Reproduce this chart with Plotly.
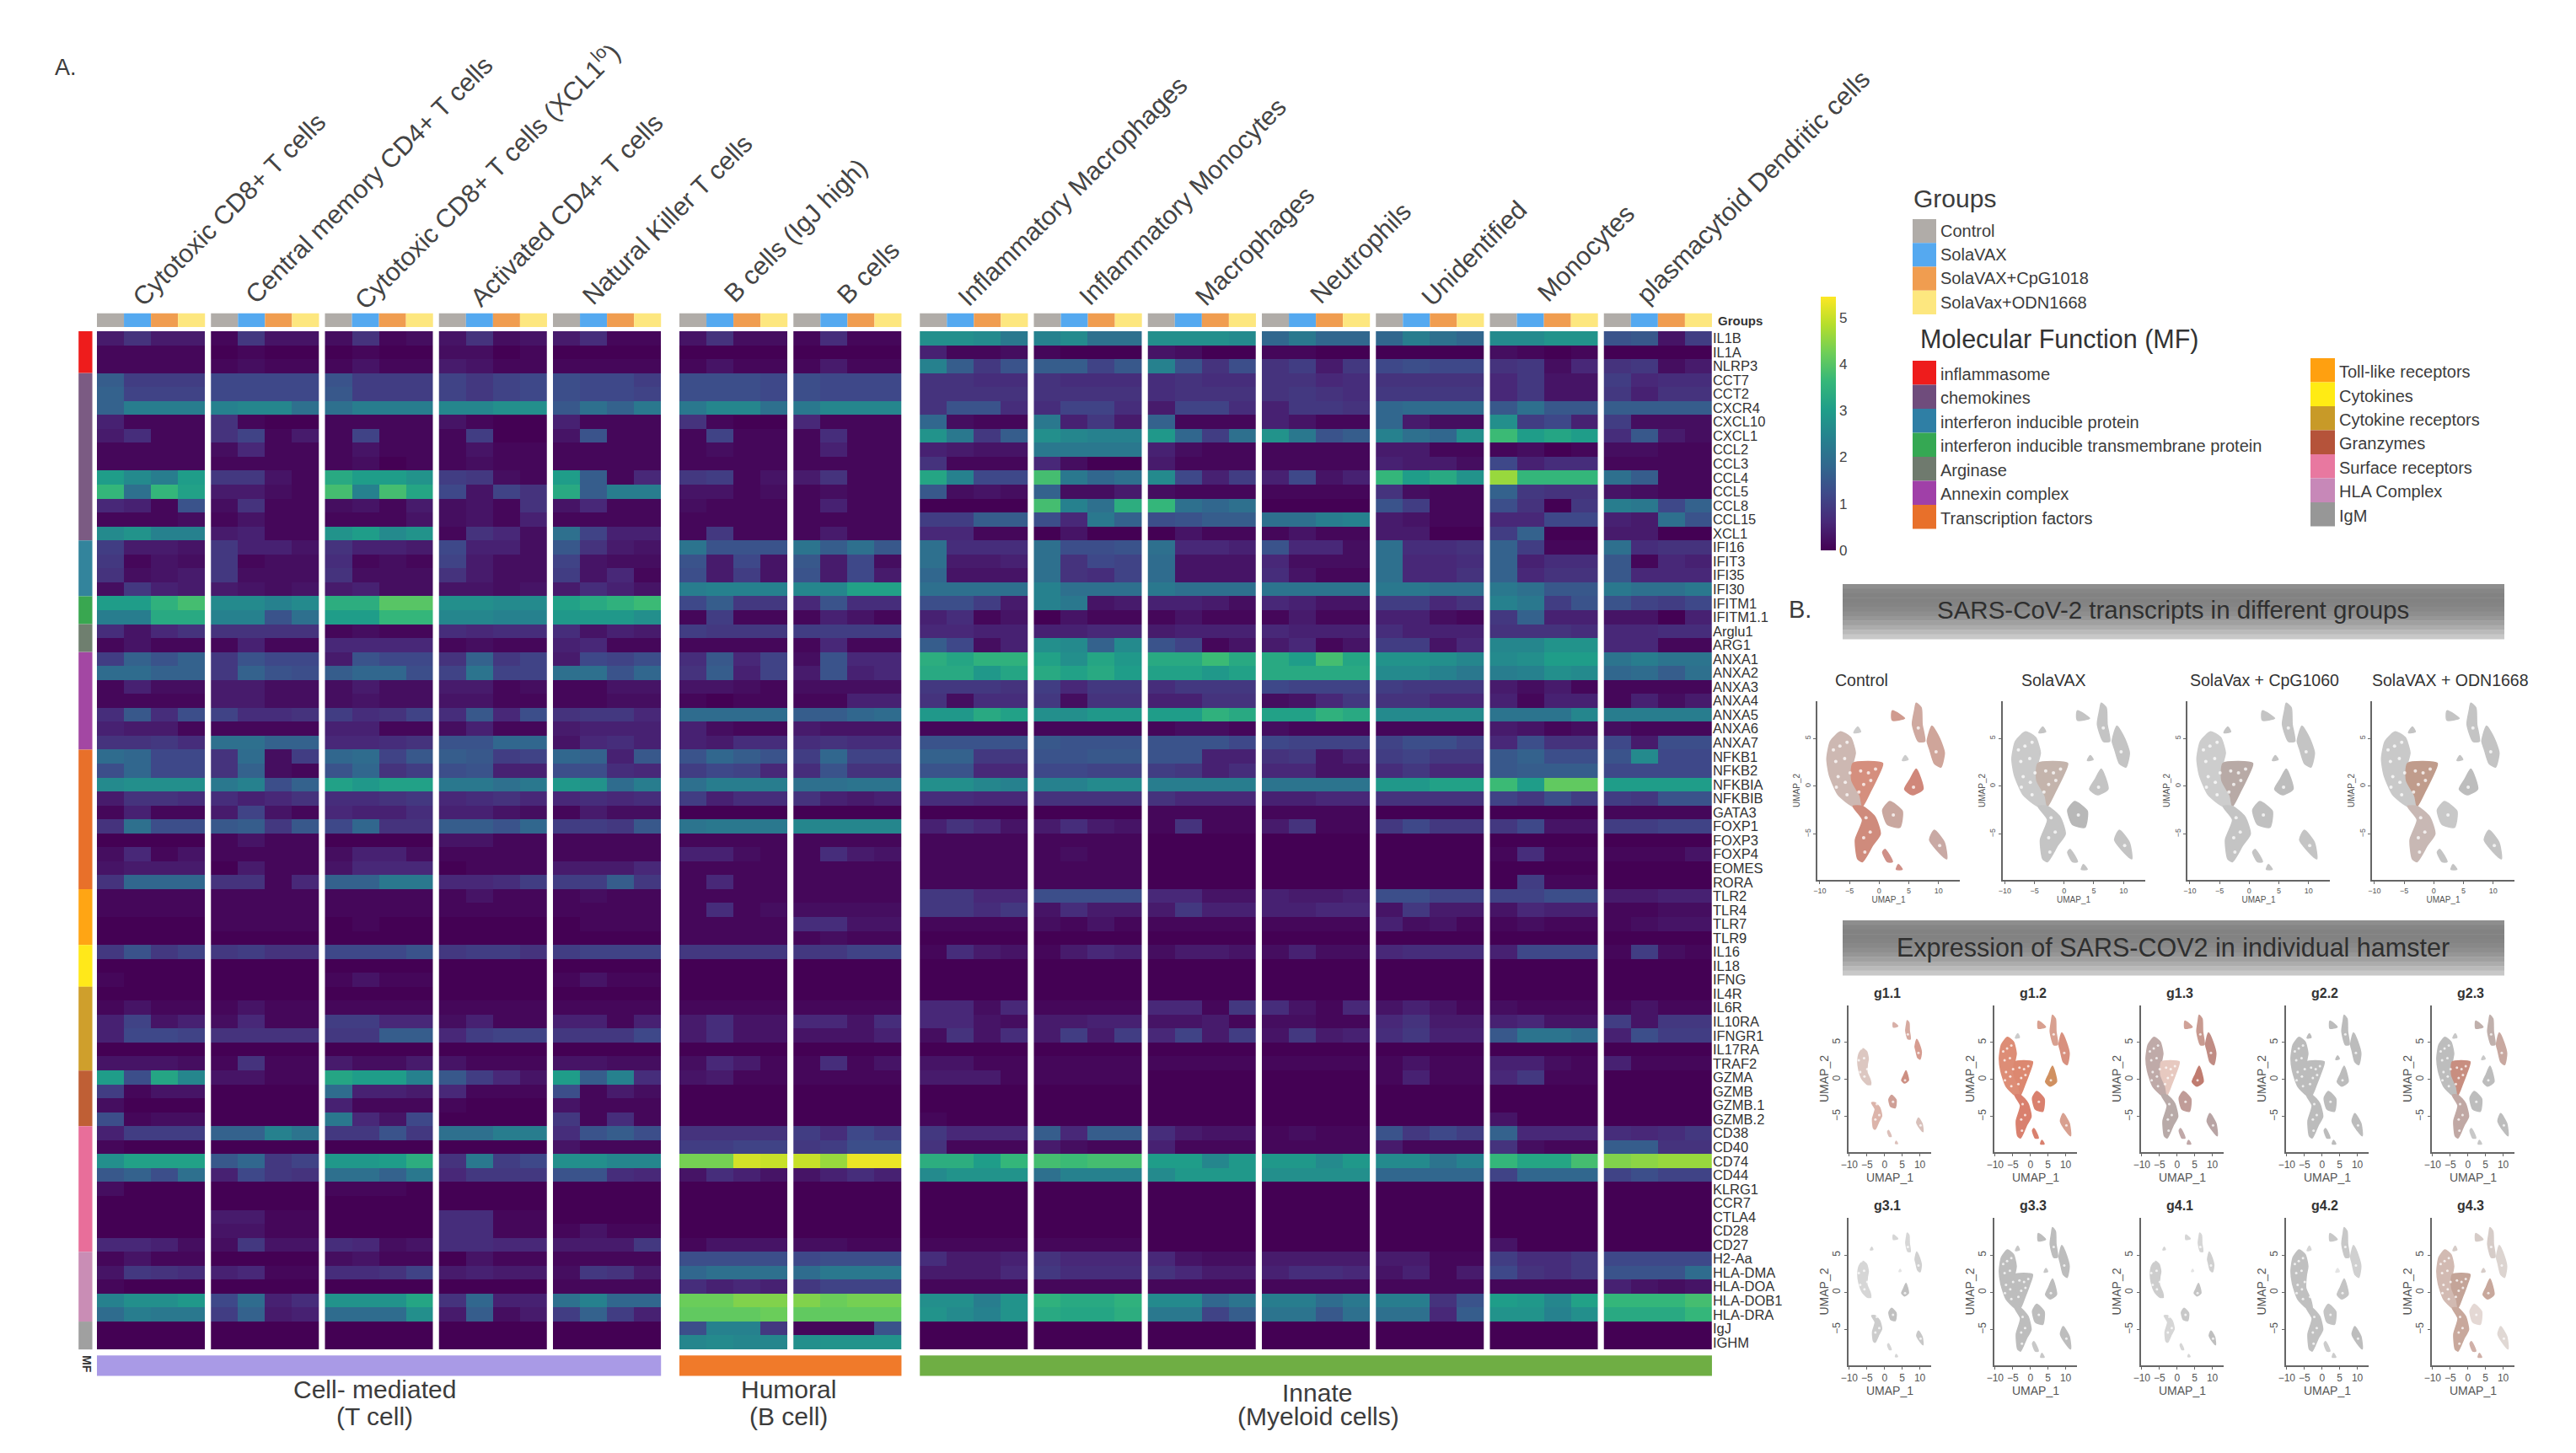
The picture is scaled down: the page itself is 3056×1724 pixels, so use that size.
import plotly.graph_objects as go

W, H = 3056, 1724

genes = ["IL1B","IL1A","NLRP3","CCT7","CCT2","CXCR4","CXCL10","CXCL1","CCL2","CCL3","CCL4","CCL5","CCL8","CCL15","XCL1",
"IFI16","IFIT3","IFI35","IFI30","IFITM1","IFITM1.1","Arglu1","ARG1","ANXA1","ANXA2","ANXA3","ANXA4","ANXA5","ANXA6","ANXA7",
"NFKB1","NFKB2","NFKBIA","NFKBIB","GATA3","FOXP1","FOXP3","FOXP4","EOMES","RORA","TLR2","TLR4","TLR7","TLR9","IL16","IL18","IFNG",
"IL4R","IL6R","IL10RA","IFNGR1","IL17RA","TRAF2","GZMA","GZMB","GZMB.1","GZMB.2","CD38","CD40","CD74","CD44","KLRG1","CCR7","CTLA4",
"CD28","CD27","H2-Aa","HLA-DMA","HLA-DOA","HLA-DOB1","HLA-DRA","IgJ","IGHM"]

cell_types_t = ["Cytotoxic CD8+ T cells","Central memory CD4+ T cells","Cytotoxic CD8+ T cells (XCL1<sup>lo</sup>)","Activated CD4+ T cells","Natural Killer T cells"]
cell_types_b = ["B cells (IgJ high)","B cells"]
cell_types_m = ["Inflammatory Macrophages","Inflammatory Monocytes","Macrophages","Neutrophils","Unidentified","Monocytes","plasmacytoid Dendritic cells"]
groups = ["Control","SolaVAX","SolaVAX+CpG1018","SolaVax+ODN1668"]

# expression x 10, one row per gene, four values per cell type
expr_t = [
[4,8,4,4,1,9,3,3,2,8,1,2,3,8,2,3,4,7,1,1],
[1,1,1,1,0,1,0,0,0,1,0,0,2,2,0,1,0,0,0,0],
[1,1,1,1,1,2,1,1,1,3,1,1,4,3,1,1,1,1,1,1],
[16,10,10,10,12,12,12,12,14,10,10,10,11,9,11,12,13,12,12,10],
[17,11,11,11,12,12,12,12,15,10,10,10,11,9,11,12,13,12,12,11],
[17,23,23,23,24,25,25,20,20,23,23,23,25,25,27,27,15,20,17,22],
[5,1,1,1,8,1,0,0,1,1,1,1,3,1,0,0,5,1,1,1],
[4,7,1,1,8,11,1,4,1,11,1,1,1,10,0,0,3,14,1,1],
[1,1,1,1,2,6,1,1,1,3,1,1,1,3,1,1,1,1,1,1],
[1,1,1,1,1,1,1,1,1,2,0,1,1,2,1,1,1,1,1,1],
[30,26,23,30,9,9,3,1,33,30,30,28,10,9,2,1,30,16,1,6],
[36,20,36,31,4,4,2,1,38,24,38,32,12,3,11,8,33,16,23,23],
[6,5,1,14,2,8,1,1,2,3,1,4,2,3,1,8,3,6,1,1],
[1,1,1,2,1,3,1,1,1,1,1,3,2,3,1,5,1,1,1,1],
[26,28,24,24,4,5,1,1,28,30,26,28,1,8,6,2,20,11,5,5],
[10,4,4,3,9,5,5,3,8,5,5,4,12,5,5,2,15,8,4,3],
[9,1,3,2,9,1,2,2,7,1,2,1,11,4,2,2,11,3,2,2],
[8,2,3,4,9,2,2,2,8,2,2,2,8,4,2,2,10,3,6,1],
[2,9,5,4,4,3,2,3,4,5,2,2,3,3,2,3,4,7,5,3],
[30,30,35,38,26,26,24,26,34,34,40,40,27,27,26,26,31,33,35,37],
[23,23,33,33,24,24,14,20,30,30,36,36,25,25,24,24,29,29,29,27],
[7,3,6,8,8,8,8,8,1,2,1,1,7,6,7,7,7,3,5,4],
[1,3,1,1,1,5,1,1,6,6,6,6,1,2,1,1,5,6,1,1],
[10,17,14,17,9,14,12,12,4,14,12,12,8,17,9,11,4,12,11,13],
[19,19,17,17,9,17,14,13,16,18,18,13,11,21,11,11,20,20,14,18],
[1,5,2,2,4,4,2,2,2,4,2,2,4,4,1,2,1,1,3,3],
[1,1,1,1,4,4,2,2,2,3,2,2,3,3,1,1,1,1,2,2],
[7,15,7,13,11,7,7,8,10,7,8,11,7,15,6,13,8,9,9,6],
[5,4,4,1,1,1,1,1,5,5,1,1,2,5,1,1,4,5,5,5],
[8,8,9,7,20,20,17,17,6,6,7,8,14,14,18,18,3,6,7,5],
[19,18,12,12,8,19,2,10,18,19,11,15,16,15,10,11,18,17,5,15],
[13,18,12,12,8,17,2,1,14,18,8,10,13,14,5,5,13,13,7,6],
[26,27,27,27,22,24,13,17,31,29,31,31,22,22,20,22,29,28,19,23],
[4,8,8,7,7,5,6,8,7,7,8,9,6,7,8,6,6,7,6,7],
[1,5,1,1,4,11,3,1,6,5,5,7,5,5,3,2,1,4,2,2],
[8,20,13,13,15,16,9,15,12,18,8,8,16,16,14,18,10,10,9,15],
[0,0,0,0,1,3,1,1,0,0,0,0,3,3,1,1,1,1,1,1],
[2,6,1,3,1,1,1,1,2,5,5,2,1,1,1,1,1,1,1,1],
[3,4,4,4,0,4,1,1,3,6,6,6,0,1,1,1,4,4,4,6],
[8,18,18,18,8,8,1,6,17,17,22,22,6,6,7,10,10,10,16,9],
[1,1,1,1,1,1,1,1,1,1,1,1,1,3,1,1,1,2,1,1],
[1,1,1,1,1,1,1,1,1,1,1,1,1,1,1,1,1,1,1,1],
[0,0,0,0,1,1,1,1,0,1,0,0,0,0,0,0,0,1,1,1],
[0,0,0,0,0,0,0,0,0,0,0,0,0,0,0,0,0,0,0,0],
[9,14,9,11,9,10,8,8,12,12,12,14,9,10,10,8,10,11,11,11],
[0,0,0,0,0,0,0,0,0,0,0,0,0,0,0,0,0,0,0,0],
[1,0,0,0,0,0,0,0,1,3,1,1,0,0,0,0,1,3,1,1],
[0,0,0,0,0,0,0,0,0,0,0,0,0,0,0,0,0,0,0,0],
[1,3,1,1,1,3,1,1,1,1,1,1,1,1,1,1,1,1,1,1],
[5,11,3,5,2,6,1,1,10,10,6,6,2,5,1,1,5,5,1,5],
[5,12,12,11,8,8,8,8,9,9,16,16,6,10,11,11,9,9,9,12],
[0,0,0,0,0,0,0,0,0,0,0,0,0,0,0,0,0,0,0,0],
[3,3,3,2,1,8,1,1,4,2,2,4,3,1,1,1,3,3,2,2],
[30,13,32,25,3,3,1,1,32,30,30,24,15,10,6,3,30,16,24,7],
[10,1,3,3,0,0,0,0,19,5,5,4,6,1,1,1,13,1,4,2],
[2,0,0,0,0,0,0,0,5,1,1,1,1,0,0,0,3,1,1,1],
[13,1,2,2,0,0,0,0,22,6,3,12,0,0,0,0,9,1,7,1],
[5,10,10,10,17,17,24,21,9,9,14,9,20,20,23,23,7,14,16,13],
[1,0,0,0,0,0,0,0,0,0,0,0,0,0,0,0,3,1,1,1],
[27,31,31,31,15,18,9,11,29,29,30,34,8,22,10,12,27,27,25,25],
[15,17,13,20,5,12,9,8,20,20,17,22,6,9,9,9,14,14,7,6],
[2,0,0,0,0,0,0,0,1,1,1,0,0,0,0,0,0,0,0,0],
[0,0,0,0,0,0,0,0,0,0,0,0,0,0,0,0,0,0,0,0],
[0,0,0,0,4,4,1,1,0,0,0,0,7,7,1,1,0,0,0,0],
[0,0,0,0,3,3,1,1,0,0,0,0,7,7,1,1,1,3,1,1],
[6,6,5,2,2,9,3,3,7,6,2,3,7,7,6,6,4,4,4,9],
[1,3,1,1,0,0,0,0,2,3,1,1,0,3,1,1,1,1,1,1],
[3,9,8,7,5,6,1,1,7,7,8,11,4,5,4,4,2,9,8,4],
[1,0,0,0,0,0,0,0,0,0,0,0,0,0,0,0,1,1,1,1],
[24,27,27,29,12,19,5,7,28,28,28,32,8,18,5,5,20,24,18,18],
[19,23,22,22,10,17,4,5,19,19,19,27,4,16,2,4,10,17,10,5],
[0,0,0,0,0,0,0,0,0,0,0,0,0,0,0,0,0,0,0,0],
[0,0,0,0,0,0,0,0,0,0,0,0,0,0,0,0,0,0,0,0],
]

expr_b = [
[3,8,2,2,1,7,1,1],[0,0,0,0,0,0,0,0],[1,3,1,1,1,4,1,1],[13,13,13,12,13,12,12,12],[13,13,13,12,13,12,12,12],
[22,25,25,20,22,25,25,25],[8,1,0,0,6,1,1,1],[1,11,1,1,1,7,1,1],[1,2,1,1,1,5,1,1],[1,1,1,1,1,1,1,1],
[9,10,1,3,4,8,1,1],[3,3,1,2,1,2,1,1],[2,1,1,1,1,5,1,1],[1,1,1,1,1,1,1,1],[1,9,1,1,1,4,1,1],
[21,14,14,14,21,16,20,15],[14,4,12,3,15,4,12,2],[13,4,10,3,14,4,12,4],[23,24,24,24,25,25,31,31],[12,16,9,9,6,14,7,7],
[1,10,1,1,1,5,3,1],[10,9,9,9,10,10,10,10],[1,1,1,1,1,6,1,1],[7,15,6,11,2,14,6,6],[8,16,5,11,4,14,5,6],
[3,3,2,1,2,2,2,2],[1,0,1,1,1,1,5,5],[19,19,19,19,16,16,18,19],[5,2,1,1,4,3,3,3],[5,4,7,7,7,8,7,7],
[14,18,16,14,10,18,11,11],[10,12,11,6,7,14,8,8],[20,23,23,23,20,20,21,21],[10,5,7,7,8,5,4,5],[0,0,0,0,0,0,0,0],
[21,22,22,22,25,25,25,25],[1,1,1,1,1,1,1,1],[5,5,2,1,1,7,4,3],[1,1,1,1,1,1,1,1],[1,6,1,1,1,1,1,1],
[1,1,1,1,1,1,1,1],[1,7,1,2,2,2,2,2],[1,1,1,1,7,7,3,3],[1,1,1,1,1,2,1,1],[9,9,9,9,9,9,11,11],
[0,0,0,0,0,0,0,0],[0,0,0,0,0,0,0,0],[0,0,0,0,0,0,0,0],[1,1,1,1,1,1,1,1],[4,7,3,3,6,6,3,7],
[4,7,3,3,3,3,3,5],[0,0,0,0,0,0,0,0],[2,6,4,1,1,7,1,3],[3,4,1,1,1,1,1,1],[0,0,0,0,0,0,0,0],
[0,0,0,0,0,0,0,0],[0,0,0,0,0,0,0,0],[8,8,8,8,10,7,12,10],[10,10,11,11,9,10,13,13],[43,43,51,50,50,46,53,53],
[3,7,5,3,3,5,7,5],[0,0,0,0,0,0,0,0],[0,0,0,0,0,0,0,0],[0,0,0,0,0,0,0,0],[0,0,0,0,0,0,0,0],
[1,3,3,3,2,2,1,1],[13,13,13,13,12,13,13,13],[18,20,20,20,19,22,22,22],[7,5,6,5,9,11,11,11],[42,42,44,44,44,42,43,43],
[41,41,41,42,41,41,41,41],[13,24,24,9,1,1,1,14],[25,26,25,25,27,28,28,28],
]

expr_m = [
[27,27,26,22,24,26,20,20,27,27,27,26,18,22,18,18,18,23,20,18,26,26,28,28,14,15,3,10],
[5,1,1,2,1,0,0,0,3,2,0,0,1,1,0,0,0,0,0,0,2,1,0,1,0,0,0,0],
[24,16,9,14,16,16,11,15,24,14,8,13,8,10,4,9,12,13,12,12,8,9,2,6,8,9,2,4],
[8,8,7,7,8,7,7,7,7,8,7,7,8,8,6,7,8,8,8,8,6,9,3,3,10,6,7,7],
[8,8,8,8,8,8,8,8,7,8,8,8,8,9,8,7,9,9,9,9,6,9,3,3,9,5,8,8],
[8,14,14,7,7,11,11,7,4,11,11,7,5,9,9,8,18,19,19,19,15,20,15,15,16,16,16,16],
[18,2,1,1,22,5,9,4,17,1,1,1,5,3,1,1,18,4,2,2,27,10,12,5,10,2,2,2],
[28,22,9,16,27,25,24,24,29,18,10,20,28,22,14,16,24,20,18,27,37,30,32,30,7,15,4,2],
[5,4,3,3,22,22,22,22,5,2,1,1,1,1,1,1,4,4,1,1,1,2,0,1,2,2,1,1],
[8,1,1,1,6,2,0,0,4,1,1,1,1,1,1,1,5,4,4,2,12,5,7,7,1,1,1,1],
[32,24,12,12,38,22,18,20,26,12,5,10,5,12,3,5,36,30,33,28,46,36,36,36,20,16,1,1],
[15,2,3,2,17,2,2,4,2,1,1,1,1,1,1,1,8,2,1,1,17,9,8,8,3,2,1,1],
[0,0,0,0,38,24,20,34,36,20,18,20,0,0,0,0,14,10,1,1,13,8,0,9,23,22,12,17],
[10,10,16,16,13,6,22,17,13,14,16,16,20,20,23,24,4,3,1,1,6,6,12,12,5,4,20,14],
[6,6,1,1,0,3,0,0,0,3,1,1,1,3,1,1,4,4,0,0,10,17,0,0,4,4,0,0],
[20,7,7,7,20,13,13,14,20,6,6,5,14,6,6,2,20,7,7,8,17,10,1,1,20,7,8,8],
[20,4,4,5,20,8,12,11,19,3,3,3,6,2,2,2,20,6,6,7,17,5,7,7,15,1,6,5],
[18,3,3,3,20,8,7,11,19,3,3,3,7,3,1,1,20,6,6,8,17,6,8,8,15,6,6,6],
[20,20,20,20,24,20,20,20,22,20,20,20,21,21,21,21,22,22,20,20,22,20,15,15,22,20,20,22],
[13,13,10,4,24,22,3,4,5,5,4,2,6,5,3,3,10,10,6,8,24,22,10,14,14,11,10,12],
[5,7,1,3,0,3,1,1,1,3,1,1,1,4,1,1,5,5,2,1,9,17,5,5,3,3,0,5],
[6,6,5,5,5,5,6,6,4,5,5,5,6,5,5,5,7,5,5,5,8,8,8,7,6,6,7,7],
[16,12,2,5,27,26,17,26,14,11,1,3,4,6,1,3,10,10,3,6,25,25,28,28,6,6,1,1],
[34,32,35,35,31,27,32,29,33,33,37,33,33,30,38,32,28,28,27,25,26,27,30,30,21,23,21,21],
[33,33,29,32,33,31,33,30,31,31,29,31,33,33,33,33,26,26,24,22,23,24,27,26,18,19,16,20],
[9,9,9,8,10,6,9,9,7,9,9,9,12,11,11,11,10,9,9,9,4,2,4,1,1,1,1,1],
[8,2,7,7,9,2,8,8,5,5,8,8,2,3,6,9,8,8,6,6,5,1,5,5,1,5,2,4],
[29,29,33,31,27,27,29,29,30,30,35,33,31,31,35,33,26,26,26,26,21,21,21,25,23,23,23,23],
[1,1,1,1,1,1,1,1,1,2,2,1,2,1,1,1,1,1,1,1,4,3,1,2,2,1,1,1],
[14,14,14,14,15,14,14,14,14,14,14,12,12,11,11,11,11,13,13,11,6,13,8,8,12,4,13,13],
[17,17,9,9,14,14,15,15,14,14,5,5,8,9,3,5,10,11,9,9,15,17,13,13,14,26,12,12],
[14,14,6,6,12,12,11,11,10,9,5,7,6,6,3,3,7,9,6,6,15,16,16,16,12,12,12,12],
[27,27,25,24,24,24,26,26,23,23,23,23,21,21,21,21,29,29,31,31,37,30,41,41,30,30,30,30],
[7,7,6,6,8,8,8,8,8,6,6,6,5,5,6,6,8,8,8,8,11,9,13,10,10,9,14,14],
[0,0,0,0,0,0,0,0,1,1,1,1,1,1,1,1,0,0,0,0,0,0,0,0,1,1,1,1],
[5,8,6,3,4,7,4,3,1,8,1,1,4,8,1,1,9,12,9,9,9,12,3,3,10,10,11,11],
[1,1,1,1,1,1,1,1,0,0,0,0,0,0,0,0,0,0,0,0,0,0,0,0,0,0,0,0],
[1,1,1,1,1,2,1,1,0,0,0,0,0,0,0,0,0,0,0,0,1,7,1,1,1,1,1,3],
[1,1,1,1,1,1,1,1,0,0,0,0,0,0,0,0,0,0,0,0,0,0,0,0,0,0,0,0],
[1,1,1,1,1,1,1,1,0,0,0,0,0,0,0,0,0,0,0,0,0,10,1,1,0,0,0,0],
[9,9,6,6,13,13,13,13,6,6,3,3,5,4,4,5,13,13,11,11,11,11,13,13,4,4,5,5],
[9,9,7,9,3,7,4,4,4,9,5,5,5,5,6,6,3,9,4,4,3,6,5,5,1,1,2,2],
[1,1,1,1,2,1,3,1,1,1,1,1,1,1,1,1,5,2,3,1,1,2,1,1,1,2,3,3],
[0,0,0,0,0,0,0,0,0,0,0,0,0,0,0,0,0,0,0,0,0,0,0,0,0,0,0,0],
[1,7,4,3,1,4,6,5,2,4,4,3,2,5,2,2,6,7,7,7,5,12,12,12,1,10,2,1],
[0,0,0,0,0,0,0,0,0,0,0,0,0,0,0,0,0,0,0,0,0,0,0,0,0,0,0,0],
[0,0,0,0,0,0,0,0,0,0,0,0,0,0,0,0,0,0,0,0,0,0,0,0,0,0,0,0],
[0,0,0,0,0,0,0,0,0,0,0,0,0,0,0,0,0,0,0,0,0,0,0,0,0,0,0,0],
[6,6,2,6,1,1,1,1,6,6,1,9,7,3,1,6,3,5,3,1,2,1,1,1,1,3,1,1],
[6,6,3,2,4,4,5,5,3,3,4,1,2,2,1,1,6,8,4,4,5,6,3,3,10,3,9,9],
[2,8,3,7,4,10,4,10,6,11,4,10,3,9,4,5,7,9,5,5,15,21,21,19,5,13,10,10],
[0,0,0,0,0,0,0,0,0,0,0,0,0,0,0,0,0,0,0,0,0,0,0,0,0,0,0,0],
[3,3,1,1,1,1,1,1,1,1,1,1,1,1,1,1,1,3,1,1,5,5,2,1,5,1,1,1],
[4,4,4,1,1,1,1,1,0,0,0,0,0,0,0,0,1,5,1,1,6,9,1,1,0,0,0,0],
[0,0,0,0,0,0,0,0,0,0,0,0,0,0,0,0,0,0,0,0,0,0,0,0,0,0,0,0],
[0,0,0,0,0,0,0,0,0,0,0,0,0,0,0,0,0,0,0,0,0,0,0,0,0,0,0,0],
[1,0,0,0,0,0,0,0,0,0,0,0,0,0,0,0,0,0,0,0,3,0,0,0,0,0,0,0],
[9,6,6,6,16,6,16,16,7,4,3,3,1,2,1,1,14,9,12,10,17,6,6,6,7,6,7,9],
[8,1,1,1,4,2,1,1,5,1,1,1,1,1,1,1,4,1,1,1,8,2,1,1,16,16,8,8],
[34,34,30,36,38,37,38,38,30,30,25,29,29,29,26,29,26,26,21,24,36,32,32,38,44,45,46,46],
[26,28,28,28,20,24,24,24,26,29,29,29,27,27,27,27,18,18,18,18,11,18,18,18,11,13,11,11],
[0,0,0,0,0,0,0,0,0,0,0,0,0,0,0,0,0,0,0,0,0,0,0,0,0,0,0,0],
[0,0,0,0,0,0,0,0,0,0,0,0,0,0,0,0,0,0,0,0,0,0,0,0,0,0,0,0],
[0,0,0,0,0,0,0,0,0,0,0,0,0,0,0,0,0,0,0,0,0,0,0,0,0,0,0,0],
[0,0,0,0,0,0,0,0,0,0,0,0,0,0,0,0,0,0,0,0,0,0,0,0,0,0,0,0],
[1,1,1,1,1,1,1,1,0,0,0,0,0,0,0,0,0,0,0,0,3,0,0,0,0,0,0,0],
[7,4,4,5,8,6,6,6,6,3,2,2,4,4,4,4,4,4,1,1,10,7,7,9,12,12,12,12],
[4,4,4,6,9,7,7,7,8,6,4,4,5,7,7,6,3,5,1,4,12,8,7,9,14,14,14,19],
[1,1,1,1,1,1,1,1,1,1,1,1,1,1,1,1,1,1,1,1,1,1,1,1,5,3,2,3],
[27,27,23,28,35,33,33,35,26,26,18,21,23,23,19,22,23,23,8,14,30,29,25,31,36,36,36,38],
[28,26,24,28,33,32,32,34,22,22,11,16,21,21,15,20,20,20,6,16,28,28,24,27,33,33,33,36],
[0,0,0,0,0,0,0,0,0,0,0,0,0,0,0,0,0,0,0,0,0,0,0,0,0,0,0,0],
[0,0,0,0,0,0,0,0,0,0,0,0,0,0,0,0,0,0,0,0,0,0,0,0,0,0,0,0],
]

mf_names_left = ["inflammasome","chemokines","interferon inducible protein","interferon inducible transmembrane protein","Arginase","Annexin complex","Transcription factors"]
mf_names_right = ["Toll-like receptors","Cytokines","Cytokine receptors","Granzymes","Surface receptors","HLA Complex","IgM"]
mf_rows = [3,12,4,2,2,7,10,4,3,6,4,9,5,2]

# UMAP cluster outlines: (UMAP_1, UMAP_2)
umap_arc = [(-6.5,5.7),(-4.8,5.1),(-4,3.5),(-4.4,2.4),(-4.6,.6),(-3.2,-1),(-2.8,-2.1),(-4.4,-2.1),(-6.9,-.9),(-8.4,1.2),(-8.8,2.9),(-8.2,4.7)]
umap_wedge = [(-4.4,2.4),(.6,2.4),(-.3,.9),(-1.5,-.6),(-2.8,-2.1),(-3.2,-1),(-4.6,.6)]
umap_tail = [(-2.8,-2.1),(-.7,-3.2),(.2,-5),(-1.1,-6.2),(-2.8,-7.9),(-3.6,-7.6),(-4,-5.6),(-2.8,-3.5),(-4.4,-2.1)]
umap_top = [(6.25,8.7),(7.1,8.2),(7.25,6.5),(7.7,4.7),(6.6,4.7),(5.6,6.5),(6,8)]
umap_topsmall = [(2.25,7.9),(3.5,7.5),(4.3,7.1),(2.25,6.9),(2.1,7.5)]
umap_right = [(8.9,6.3),(10.2,5),(11,3.5),(10.4,2),(9.3,2.4),(8.5,3.9),(8.1,4.7)]
umap_star = [(6.25,1.8),(7.4,-.3),(5.6,-.9),(4.3,-.3),(5.2,.7)]
umap_blob = [(1.8,-1.6),(3.9,-2.6),(3.5,-4.3),(1.4,-4),(.6,-2.5)]
umap_botright = [(9.3,-4.6),(11,-5.9),(11.4,-7.6),(10.2,-7),(8.5,-5.6)]
umap_botsmall = [(1,-6.6),(2.25,-7.9),(1.4,-7.9),(.6,-6.9)]
umap_tiny1 = [(3.25,-8.2),(3.9,-8.7),(2.9,-8.7)]
umap_tiny2 = [(-3.6,6.2),(-3.1,5.7),(-4.25,5.6)]
umap_tiny3 = [(4.4,3.2),(4.9,2.8),(3.9,2.7)]
umap_clusters = [umap_arc,umap_wedge,umap_tail,umap_top,umap_topsmall,umap_right,umap_star,umap_blob,umap_botright,umap_botsmall,umap_tiny1,umap_tiny2,umap_tiny3]
# gaps between the cell clouds, seen as pale flecks inside the clusters
umap_flecks = [(-6.6,4.2),(-7.3,2.6),(-5.8,2.9),(-6.9,1),(-5.7,.4),(-5.4,-.9),(-4.9,1.4),(-3.1,1.6),(-1.8,1.4),(-2.6,.2),(-1.4,.6),(-3.4,-.6),
 (-2.2,-3.3),(-1.5,-4.8),(-2.6,-5.4),(-2.4,-6.9),(-7.7,3.8),(-5.4,4.6),(6.6,6.1),(9.6,3.6),(5.8,-.1),(2.4,-3),(10.2,-6.2),(-7.2,-.1),(-.6,1.8)]

umap_titles_top = ["Control","SolaVAX","SolaVax + CpG1060","SolaVAX + ODN1668"]
umap_titles_low = ["g1.1","g1.2","g1.3","g2.2","g2.3","g3.1","g3.3","g4.1","g4.2","g4.3"]
umap_sparse = ["g1.1","g3.1","g4.1"]

# Styles ---------------------------------------------------------------
G, LG, VL = "#c4c4c4", "#d6d6d6", "#e4e4e4"
umap_top_colors = [
 ["#cdb8b2","#d58f7e","#cf8b7c","#cfa9a0","#d09a8e","#cfa59a","#d0877a","#c9a79f","#c9a9a4","#cf9088","#d09088","#cccccc","#cccccc"],
 ["#cacaca","#c4b4ac",G,G,G,G,G,"#b8b8b8",G,G,G,G,G],
 ["#cdcdcd","#b8aaa6",G,G,G,G,"#bdbdbd","#c0c0c0",G,G,G,G,G],
 ["#c9c9c9","#c09c8c","#c8b8b4",G,G,G,"#bdbdbd","#c8c8c8",G,G,G,G,G],
]
umap_low_colors = [
 ["#dcc7c1",None,"#dcb4aa","#d6aaa0","#d8b0a8","#d69c90","#cd8f82","#cf9f96","#d8c0ba","#dcc0ba","#dcc0ba",None,None],
 ["#dd8d76","#dc8870","#d9806e","#d8a090","#d8a090","#d8907e","#d09060","#d9806e","#d8a090","#d9806e","#d9806e","#cccccc",None],
 ["#bfaaa8","#e7c9c0","#b8aaa8","#c89a90","#d0a298","#c08c84","#c07c70","#c09c98","#b8a4a4","#c0a8a8","#c0a8a8",None,None],
 ["#bcbcbc"]*13,
 ["#bdbdbd","#c88e80","#c0a8a4","#c0b0ac","#c0b0ac","#c8a8a0","#bdbdbd","#bdbdbd","#bdbdbd","#c8c8c8","#c8c8c8","#c8c8c8","#c8c8c8"],
 [LG,None,"#cccccc",LG,LG,"#d0d0d0","#c0c0c0","#c0c0c0","#c8c8c8",LG,LG,LG,VL],
 ["#bdbdbd","#bdbdbd","#bdbdbd","#bdbdbd","#bdbdbd","#bdbdbd","#bdbdbd","#bdbdbd","#bdbdbd","#c8c8c8","#c8c8c8","#c8c8c8","#c8c8c8"],
 ["#cdcdcd",None,"#d6d6d6",LG,LG,"#d0d0d0","#c4c4c4","#c8c8c8","#bfbfbf",LG,LG,LG,VL],
 ["#c0c0c0",None,"#c0c0c0","#c8c8c8","#c8c8c8","#d0d0d0","#c4c4c4","#c4c4c4","#bdbdbd","#cccccc","#cccccc",LG,VL],
 ["#d2bab2","#c4a498","#c8a89c","#d6ccc8","#d6ccc8","#dcd4d0","#c8a89c","#e4d8d4","#e0d8d4","#d0b0a8","#d0b0a8","#d6ccc8","#d6ccc8"],
]
group_colors = ["#b0aca8","#55a9f0","#f09d50","#fde77f"]
mf_colors_left = ["#ee1c1c","#6f4c7c","#2f7fa5","#35a853","#6f7a6e","#a040a8","#e8702a"]
mf_colors_right = ["#ffa010","#ffeb14","#c89a28","#b5533a","#e878a0","#c788b8","#979797"]
side_colors = ["#ee1c1c","#7b5b83","#33849c","#39a750","#6f7f6f","#a347a3","#e8702a","#ffa514","#ffe81a","#cf9f2c","#bf5f35","#e86e9a","#c98db5","#a0a0a0"]
class_colors = ["#a99ae6","#f07a2a","#6fae44"]
banner_grays = ["#8e8e8e","#868686","#828282","#828282","#848484","#888888","#8e8e8e","#969696","#a0a0a0","#acacac","#bababa","#c8c8c8"]
FONT = "Liberation Sans"
TXT = "#3c3c3c"

def px(x): return x / W
def py(y): return 1 - y / H

# Heatmap geometry (pixels of the page)
HX0, UNIT = 115, 32.05
HY0, ROW = 393, 16.55
GAP, BIG = 0.22, 0.68
panel_start = []
pos = 0.0
for i in range(14):
    panel_start.append(pos)
    pos += 4
    if i in (4, 6):
        pos += BIG
    elif i < 13:
        pos += GAP
X_END = pos

ax_x0, ax_y0, ax_y1 = 90, 368, 1636
xr = [(ax_x0 - HX0) / UNIT, X_END]
yr = [72.5 + (ax_y1 - (HY0 + 73 * ROW)) / ROW, -0.5 - (HY0 - ax_y0) / ROW]

fig = go.Figure()
expr_rows = [t + b + m for t, b, m in zip(expr_t, expr_b, expr_m)]
for p, start in enumerate(panel_start):
    z = [[v / 10 for v in r[p * 4:p * 4 + 4]] for r in expr_rows]
    fig.add_trace(go.Heatmap(z=z, x=[start + c + .5 for c in range(4)], y=list(range(len(genes))),
                             coloraxis="coloraxis", xgap=0, ygap=0, hoverinfo="skip"))

shapes = []
def rect(x0, y0, x1, y1, color, ref="paper"):
    if ref == "paper":
        x0, x1, y0, y1 = px(x0), px(x1), py(y0), py(y1)
        shapes.append(dict(type="rect", xref="paper", yref="paper", x0=x0, x1=x1, y0=y0, y1=y1,
                           fillcolor=color, line_width=0, layer="below"))
    else:
        shapes.append(dict(type="rect", xref="x", yref="y", x0=x0, x1=x1, y0=y0, y1=y1,
                           fillcolor=color, line_width=0, layer="below"))

for start in panel_start:
    for c, col in enumerate(group_colors):
        rect(start + c, -1.78, start + c + 1, -0.8, col, "data")

row = 0
for n, col in zip(mf_rows, side_colors):
    rect(-0.68, row - .5, -0.17, row + n - .5, col, "data")
    row += n

band_ranges = [(0, 4), (5, 6), (7, 13)]
for (a, b), col in zip(band_ranges, class_colors):
    rect(panel_start[a], 72.5 + .43, panel_start[b] + 4, 72.5 + 1.9, col, "data")

annotations = []
def text(x, y, s, size=18, anchor="center", color=TXT, angle=0, yanchor="middle"):
    annotations.append(dict(x=px(x), y=py(y), xref="paper", yref="paper", text=s, showarrow=False,
                            xanchor=anchor, yanchor=yanchor, textangle=angle,
                            font=dict(family=FONT, size=size, color=color)))

label_starts = [(162,363),(295,360),(422,367),(562,363),(695,360),(863,358),(997,360),(1141,363),(1284,362),(1422,362),(1558,360),(1691,362),(1828,358),(1946,360)]
for lab, (lx, ly) in zip(cell_types_t + cell_types_b + cell_types_m, label_starts):
    annotations.append(dict(x=px(lx - 14), y=py(ly + 10), xref="paper", yref="paper", text=lab, showarrow=False,
                            xanchor="left", yanchor="bottom", textangle=-45,
                            font=dict(family=FONT, size=30.5, color="#444444")))

text(78, 80, "A.", 27)
text(2135, 723, "B.", 29)
text(2036, 381, "<b>Groups</b>", 15, "left", "#333333")
text(103, 1619, "<b>MF</b>", 14, "center", "#333333", 90)
text(444, 1648, "Cell- mediated", 30); text(444, 1680, "(T cell)", 30)
text(935, 1648, "Humoral", 30); text(935, 1680, "(B cell)", 30)
text(1562, 1652, "Innate", 30); text(1564, 1680, "(Myeloid cells)", 30)

# legends
text(2268, 235, "Groups", 30, "left")
for i, (g, col) in enumerate(zip(groups, group_colors)):
    y0 = 260 + i * 28.25
    rect(2269, y0, 2297, y0 + 28.25, col)
    text(2300, y0 + 14, g, 20, "left")
text(2276, 402, "Molecular Function (MF)", 30.5, "left", "#333333")
for i, (g, col) in enumerate(zip(mf_names_left, mf_colors_left)):
    y0 = 428 + i * 28.5
    rect(2269, y0, 2297, y0 + 28.5, col)
    text(2300, y0 + 16, g, 20, "left")
for i, (g, col) in enumerate(zip(mf_names_right, mf_colors_right)):
    y0 = 425 + i * 28.5
    rect(2741, y0, 2770, y0 + 28.5, col)
    text(2773, y0 + 16, g, 20, "left")

# banners
for top, bot, lab, ty, fs in [(693, 758, "SARS-CoV-2 transcripts in different groups", 723, 29.5),
                              (1092, 1157, "Expression of SARS-COV2 in individual hamster", 1124, 30.5)]:
    h = (bot - top) / len(banner_grays)
    for i, col in enumerate(banner_grays):
        rect(2186, top + i * h, 2971, top + (i + 1) * h + .5, col)
    text(2578, ty, lab, fs, "center", "#2f2f2f")

layout_axes = {}
ax_n = 1
def add_umap(x0, x1, y0, y1, xr_, yr_, colors, title, title_y, tick_fs, lab_fs, bold, title_x, title_fs, lab_stand, fleck):
    global ax_n
    ax_n += 1
    xk, yk = f"xaxis{ax_n}", f"yaxis{ax_n}"
    shrink = 0.62 if title in umap_sparse else 1.0
    for pts, col in zip(umap_clusters, colors):
        if col is None:
            continue
        cx = sum(p[0] for p in pts) / len(pts)
        cy = sum(p[1] for p in pts) / len(pts)
        xs = [cx + (p[0] - cx) * shrink for p in pts] + [cx + (pts[0][0] - cx) * shrink]
        ys = [cy + (p[1] - cy) * shrink for p in pts] + [cy + (pts[0][1] - cy) * shrink]
        fig.add_trace(go.Scatter(x=xs, y=ys, mode="lines", fill="toself", fillcolor=col,
                                 line=dict(color=col, width=1.5, shape="spline", smoothing=.6),
                                 xaxis=f"x{ax_n}", yaxis=f"y{ax_n}", hoverinfo="skip", showlegend=False))
    fig.add_trace(go.Scatter(x=[p[0] for p in umap_flecks], y=[p[1] for p in umap_flecks], mode="markers",
                             marker=dict(color="rgba(255,255,255,.75)", size=fleck),
                             xaxis=f"x{ax_n}", yaxis=f"y{ax_n}", hoverinfo="skip", showlegend=False))
    common = dict(showgrid=False, zeroline=False, showline=True, linecolor="#666666", linewidth=1.5,
                  ticks="outside", ticklen=3, tickcolor="#666666",
                  tickfont=dict(family=FONT, size=tick_fs, color="#555555"))
    layout_axes[xk] = dict(domain=[px(x0), px(x1)], range=xr_, anchor=f"y{ax_n}", tickvals=[-10,-5,0,5,10],
                           title=dict(text="UMAP_1", font=dict(family=FONT, size=lab_fs, color="#555555"), standoff=lab_stand), **common)
    layout_axes[yk] = dict(domain=[py(y1), py(y0)], range=yr_, anchor=f"x{ax_n}", tickvals=[-5,0,5], tickangle=-90,
                           title=dict(text="UMAP_2", font=dict(family=FONT, size=lab_fs, color="#555555"), standoff=lab_stand), **common)
    text(title_x, title_y, f"<b>{title}</b>" if bold else title, title_fs, "center", "#333333")

top_x = [2156, 2375.5, 2595, 2814]
top_title_x = [2208, 2436, 2686, 2907]
for x0, tx, t, cols in zip(top_x, top_title_x, umap_titles_top, umap_top_colors):
    add_umap(x0, x0 + 169, 832, 1044, [-10.4, 13.6], [-9.8, 8.9], cols, t, 807, 9, 10, False, tx, 19.5, 2, 4)

low_x = [2193, 2366, 2540, 2712, 2885]
for i, (t, cols) in enumerate(zip(umap_titles_low, umap_low_colors)):
    x0 = low_x[i % 5]
    y0, y1, ty = (1193, 1367, 1178) if i < 5 else (1445, 1620, 1430)
    add_umap(x0, x0 + 98, y0, y1, [-10.2, 13.2], [-9.8, 10], cols, t, ty, 12, 14, True, x0 + 46, 16, 0, 3)

fig.update_layout(
    width=W, height=H, margin=dict(l=0, r=0, t=0, b=0, autoexpand=False), paper_bgcolor="white", plot_bgcolor="rgba(0,0,0,0)",
    showlegend=False,
    xaxis=dict(domain=[px(ax_x0), px(HX0 + X_END * UNIT)], range=xr, visible=False, fixedrange=True),
    yaxis=dict(domain=[py(ax_y1), py(ax_y0)], range=yr, side="right", tickvals=list(range(len(genes))), ticktext=genes,
               showgrid=False, zeroline=False, showline=False, ticks="", anchor="x",
               tickfont=dict(family=FONT, size=16.5, color="#333333")),
    coloraxis=dict(colorscale="Viridis", cmin=0, cmax=5.45,
                   colorbar=dict(x=px(2160), xanchor="left", xpad=0, y=py(653), yanchor="bottom", ypad=0,
                                 len=301 / H, lenmode="fraction", thickness=18, thicknessmode="pixels",
                                 outlinewidth=0, ticks="", tickvals=[0,1,2,3,4,5],
                                 tickfont=dict(family=FONT, size=17, color="#444444"))),
    shapes=shapes, annotations=annotations, **layout_axes,
)
assert all(len(r) == 56 for r in expr_rows) and len(expr_rows) == 73
fig.write_html("out.html", post_script="document.body.style.margin='0';", config={"displayModeBar": False})
